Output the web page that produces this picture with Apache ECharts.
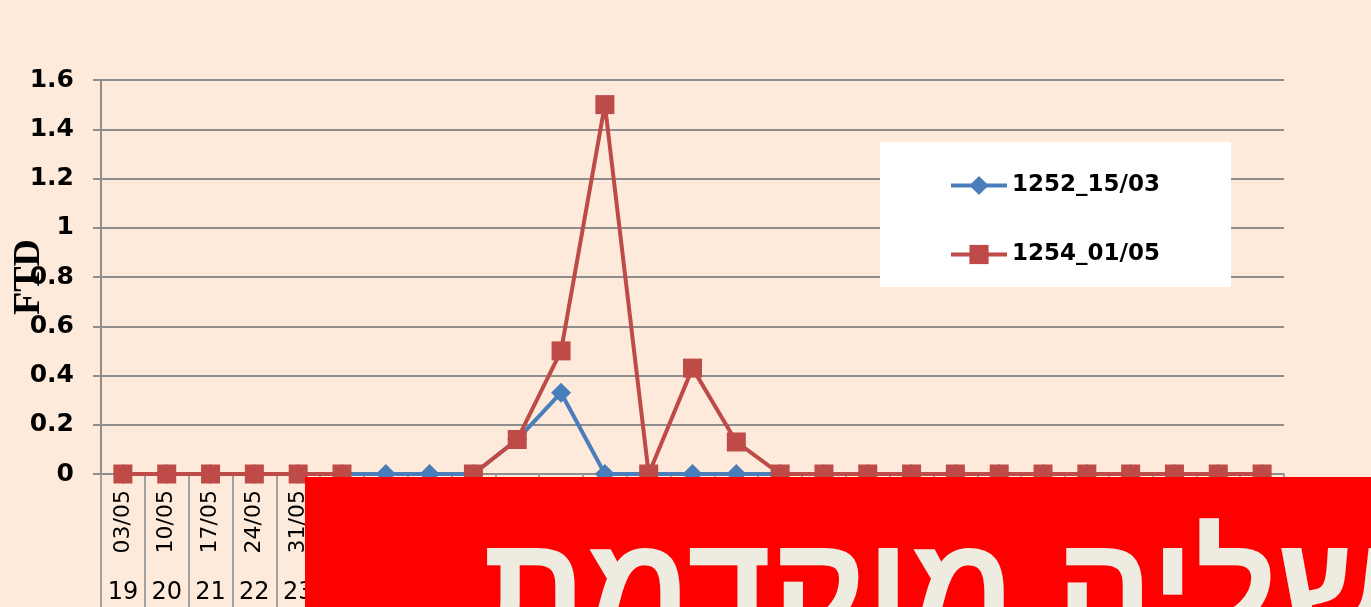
<!DOCTYPE html>
<html>
<head>
<meta charset="utf-8">
<script src="https://cdn.jsdelivr.net/npm/echarts@6/dist/echarts.min.js"></script>
<style>
html,body{margin:0;padding:0;background:#FDEADB;}
#c{width:1371px;height:607px;}
</style>
</head>
<body>
<div id="c"></div>
<script>
const dates = ['03/05','10/05','17/05','24/05','31/05','07/06','14/06','21/06','28/06','05/07','12/07','19/07','26/07','02/08','09/08','16/08','23/08','30/08','06/09','13/09','20/09','27/09','04/10','11/10','18/10','25/10','01/11'];
const weeks = ['19','20','21','22','23','24','25','26','27','28','29','30','31','32','33','34','35','36','37','38','39','40','41','42','43','44','45'];
const s1252 = [0,0,0,0,0,0,0,0,0,0.14,0.33,0,0,0,0,0,0,0,0,0,0,0,0,0,0,0,0];
const s1254 = [0,0,0,0,0,0,null,null,0,0.14,0.5,1.5,0,0.43,0.13,0,0,0,0,0,0,0,0,0,0,0,0];
const yTicks = {min:0, max:1.6, interval:0.2};
const overlayText = 'היפרדות שליה מוקדמת';

const chart = echarts.init(document.getElementById('c'), null, {renderer:'canvas'});
chart.setOption({
  backgroundColor:'#FDEADB',
  animation:false,
  grid:{left:101, right:87, top:80, bottom:133, containLabel:false, outerBoundsMode:'none'},
  legend:{
    orient:'vertical', left:944, top:169, itemWidth:56, itemHeight:24, itemGap:46,
    lineStyle:{width:4},
    textStyle:{fontFamily:'DejaVu Sans', fontWeight:'bold', fontSize:23, color:'#000'},
    data:['1252_15/03','1254_01/05']
  },
  xAxis:[{
    type:'category', data:dates, boundaryGap:true, position:'bottom',
    axisLine:{lineStyle:{color:'#8E8E8E', width:2}},
    axisTick:{show:true, interval:0, length:140, lineStyle:{color:'#A0A0A0', width:2}},
    axisLabel:{interval:0, rotate:90, margin:16, fontFamily:'DejaVu Sans', fontSize:22, color:'#000'}
  },{
    type:'category', data:weeks, boundaryGap:true, position:'bottom',
    axisLine:{show:false}, axisTick:{show:false},
    axisLabel:{interval:0, margin:107, fontFamily:'DejaVu Sans', fontSize:24, color:'#000'}
  }],
  yAxis:{
    type:'value', min:yTicks.min, max:yTicks.max, interval:yTicks.interval,
    name:'FTD', nameLocation:'middle', nameGap:53, nameRotate:90, nameMoveOverlap:false,
    nameTextStyle:{fontFamily:'Liberation Serif', fontWeight:'bold', fontSize:38, color:'#000'},
    axisLine:{show:true, lineStyle:{color:'#8E8E8E', width:2}},
    axisTick:{show:true, length:8, lineStyle:{color:'#8E8E8E', width:2}},
    splitLine:{show:true, lineStyle:{color:'#8E8E8E', width:2}},
    axisLabel:{margin:27, fontFamily:'DejaVu Sans', fontWeight:'bold', fontSize:25, color:'#000'}
  },
  series:[{
    name:'1252_15/03', type:'line', data:s1252, xAxisIndex:0,
    symbol:'diamond', symbolSize:20, showAllSymbol:true,
    lineStyle:{color:'#4A7EBB', width:4}, itemStyle:{color:'#4A7EBB'}, z:2
  },{
    name:'1254_01/05', type:'line', data:s1254, xAxisIndex:0, connectNulls:false,
    symbol:'rect', symbolSize:19, showAllSymbol:true,
    lineStyle:{color:'#BE4B48', width:4}, itemStyle:{color:'#BE4B48'}, z:3
  }],
  graphic:[{
    type:'rect', left:880, top:142, z:1, silent:true,
    shape:{width:351, height:145}, style:{fill:'#FFFFFF'}
  },{
    type:'rect', left:305, top:477, z:100, silent:true,
    shape:{width:1066, height:130}, style:{fill:'#FF0000'}
  },{
    type:'text', z:101, silent:true, x:482, y:524,
    style:{text:overlayText, fill:'#EEEBE0', font:'bold 145px "Liberation Sans", "DejaVu Sans"', textAlign:'left', textVerticalAlign:'top'}
  }]
});
</script>
</body>
</html>
